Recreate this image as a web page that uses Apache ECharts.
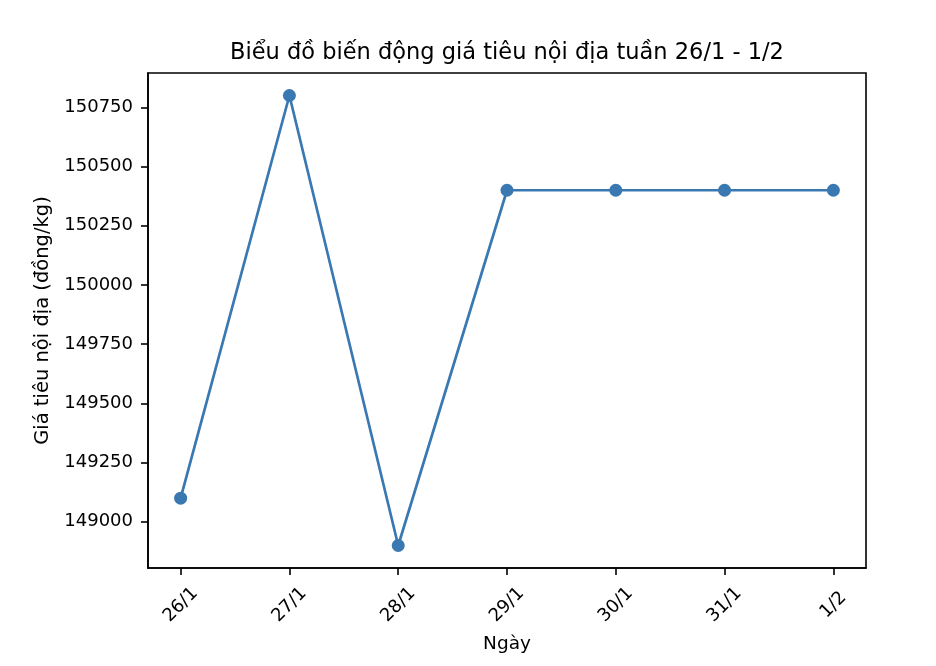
<!DOCTYPE html>
<html>
<head>
<meta charset="utf-8">
<title>Biểu đồ giá tiêu</title>
<script src="https://cdn.jsdelivr.net/npm/echarts@6/dist/echarts.min.js"></script>
<style>
    html,body{margin:0;padding:0;background:#fff;}
    #J_Main{width:936px;height:666px;}
</style>
</head>
<body>
<div id="J_Main"></div>
<script>
// du lieu doc tu hinh
var days=["26/1","27/1","28/1","29/1","30/1","31/1","1/2"];
var prices=[149100,150800,148900,150400,150400,150400,150400];
var yTicks=[149000,149250,149500,149750,150000,150250,150500,150750];

var FONT="DejaVu Sans",LINE_COLOR="#3a78b2";

var viewContainer=document.getElementById("J_Main");
var myChart=echarts.init(viewContainer);

var seriesData=prices.map(function(p,i){return [i,p]});
var xTicks=days.map(function(d,i){return i});

var option={
    animation:false,
    backgroundColor:"#fff",
    title:{
        text:"Biểu đồ biến động giá tiêu nội địa tuần 26/1 - 1/2",
        left:507,
        top:42,
        padding:0,
        textAlign:"center",
        textStyle:{
            fontFamily:FONT,
            fontSize:22.5,
            fontWeight:"normal",
            color:"#000"
        }
    },
    grid:{
        left:148,
        right:70,
        top:73,
        bottom:98,
        show:true,
        borderColor:"#000",
        borderWidth:1.6,
        backgroundColor:"transparent"
    },
    xAxis:{
        type:"value",
        min:-0.3,
        max:6.3,
        name:"Ngày",
        nameLocation:"middle",
        nameGap:67,
        nameTextStyle:{fontFamily:FONT,fontSize:18.5,color:"#000"},
        splitLine:{show:false},
        axisLine:{show:true,onZero:false,lineStyle:{color:"#000",width:1.6}},
        axisTick:{
            show:true,
            length:7,
            customValues:xTicks,
            lineStyle:{color:"#000",width:1.6}
        },
        axisLabel:{
            customValues:xTicks,
            rotate:45,
            align:"center",
            verticalAlign:"middle",
            margin:37,
            fontFamily:FONT,
            fontSize:18,
            color:"#000",
            formatter:function(v){return days[Math.round(v)]}
        }
    },
    yAxis:{
        type:"value",
        min:148805,
        max:150895,
        name:"Giá tiêu nội địa (đồng/kg)",
        nameLocation:"middle",
        nameGap:92,
        nameTextStyle:{fontFamily:FONT,fontSize:19.5,color:"#000"},
        splitLine:{show:false},
        axisLine:{show:true,onZero:false,lineStyle:{color:"#000",width:1.6}},
        axisTick:{
            show:true,
            length:7,
            customValues:yTicks,
            lineStyle:{color:"#000",width:1.6}
        },
        axisLabel:{
            customValues:yTicks,
            margin:15,
            fontFamily:FONT,
            fontSize:18,
            color:"#000",
            formatter:function(v){return String(v)}
        }
    },
    series:[{
        type:"line",
        data:seriesData,
        symbol:"circle",
        symbolSize:13,
        showSymbol:true,
        itemStyle:{color:LINE_COLOR},
        lineStyle:{color:LINE_COLOR,width:2.7}
    }]
};
myChart.setOption(option);
</script>
</body>
</html>
